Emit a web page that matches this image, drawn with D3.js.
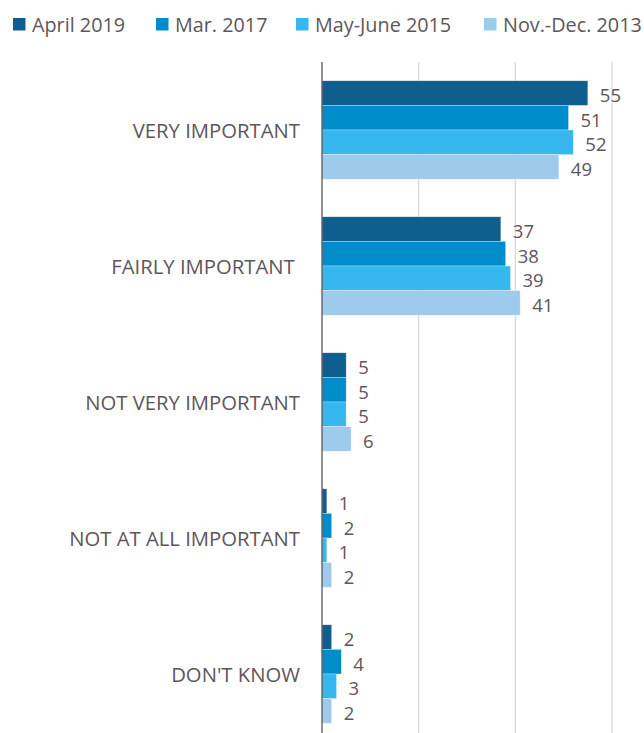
<!DOCTYPE html>
<html>
<head>
<meta charset="utf-8">
<script src="https://cdn.jsdelivr.net/npm/d3@7"></script>
<style>
  html, body { margin: 0; padding: 0; background: #ffffff; }
  svg { display: block; }
</style>
</head>
<body>
<svg id="chart" width="644" height="733"></svg>
<script>
// Survey answers, one group of bars per answer
const categories = ["VERY IMPORTANT", "FAIRLY IMPORTANT ", "NOT VERY IMPORTANT", "NOT AT ALL IMPORTANT", "DON'T KNOW"];
const seriesNames = ["April 2019", "Mar. 2017", "May-June 2015", "Nov.-Dec. 2013"];
const april2019 = [55, 37, 5, 1, 2];
const mar2017 = [51, 38, 5, 2, 4];
const mayJune2015 = [52, 39, 5, 1, 3];
const novDec2013 = [49, 41, 6, 2, 2];
const xTicks = [0, 20, 40, 60];

const seriesValues = [april2019, mar2017, mayJune2015, novDec2013];
const colors = ["#0f5f8e", "#008bca", "#36b8ef", "#9ecbec"];
const textColor = "#5e565b";
const font = "'Open Sans', 'Noto Sans', sans-serif";

const svg = d3.select("#chart");

const x = d3.scaleLinear().domain([0, 60]).range([322, 612]);
const y = d3.scaleBand().domain(categories).range([62, 742]).paddingInner(0.276).paddingOuter(0.138);
const ySub = d3.scaleBand().domain(seriesNames).range([0, y.bandwidth()]);

// vertical gridlines
svg.append("g")
  .selectAll("line")
  .data(xTicks.slice(1))
  .join("line")
  .attr("x1", d => x(d)).attr("x2", d => x(d))
  .attr("y1", 62).attr("y2", 733)
  .attr("stroke", "#d9d9d9")
  .attr("stroke-width", 1.3);

// bars
const groups = svg.append("g")
  .selectAll("g")
  .data(categories)
  .join("g")
  .attr("transform", d => `translate(0,${y(d)})`);

groups.each(function(cat, ci) {
  const g = d3.select(this);
  seriesNames.forEach((s, si) => {
    const v = seriesValues[si][ci];
    g.append("rect")
      .attr("x", x(0))
      .attr("y", ySub(s))
      .attr("width", x(v) - x(0))
      .attr("height", ySub.bandwidth())
      .attr("fill", colors[si])
      .attr("stroke", "#ffffff")
      .attr("stroke-opacity", 0.5)
      .attr("stroke-width", 0.6);
    g.append("text")
      .attr("x", x(v) + 12)
      .attr("y", ySub(s) + ySub.bandwidth() / 2 + 1.5)
      .attr("dominant-baseline", "central")
      .attr("font-family", font)
      .attr("font-size", 18.5)
      .attr("fill", textColor)
      .text(v);
  });
});

// category labels
svg.append("g")
  .selectAll("text")
  .data(categories)
  .join("text")
  .attr("x", 300)
  .attr("y", d => y(d) + y.bandwidth() / 2)
  .attr("text-anchor", "end")
  .attr("dominant-baseline", "central")
  .attr("font-family", font)
  .attr("font-size", 20.3)
  .attr("fill", textColor)
  .style("white-space", "pre")
  .text(d => d);

// value axis line
svg.append("line")
  .attr("x1", x(0)).attr("x2", x(0))
  .attr("y1", 62).attr("y2", 733)
  .attr("stroke", "#5a5558")
  .attr("stroke-width", 1.3);

// legend
const legendX = [13, 156, 296, 484];
const legend = svg.append("g")
  .selectAll("g")
  .data(seriesNames)
  .join("g")
  .attr("transform", (d, i) => `translate(${legendX[i]},18)`);
legend.append("rect")
  .attr("width", 12.5).attr("height", 12.5)
  .attr("fill", (d, i) => colors[i]);
legend.append("text")
  .attr("x", 19)
  .attr("y", 6.5)
  .attr("dominant-baseline", "central")
  .attr("font-family", font)
  .attr("font-size", 19.8)
  .attr("fill", textColor)
  .text(d => d);
</script>
</body>
</html>
